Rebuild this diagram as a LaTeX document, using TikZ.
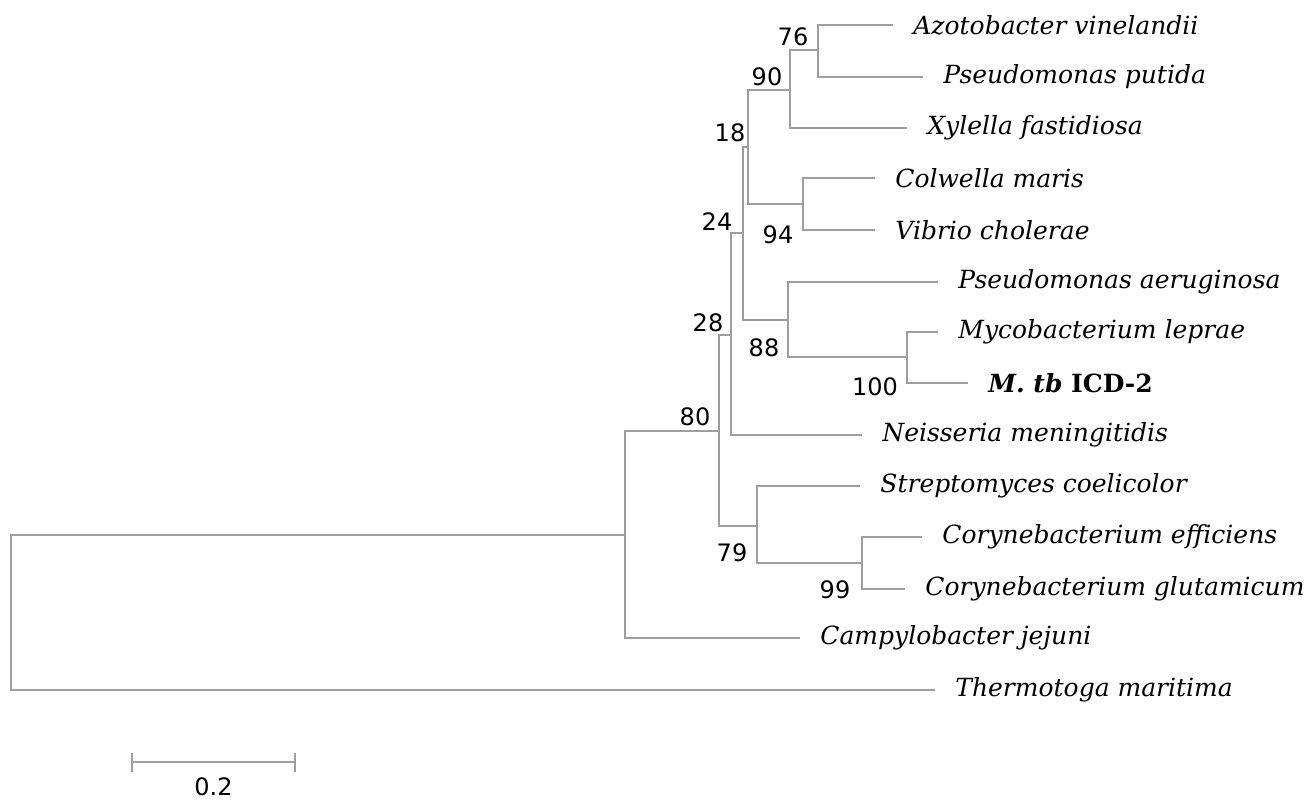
\documentclass[tikz,border=0pt]{standalone}
\usepackage{fontspec}
\setmainfont{DejaVu Serif}
\setsansfont{DejaVu Sans}
\usetikzlibrary{calc}
\newcommand*{\taxsize }{\fontsize{12.5}{15}\selectfont}
\newcommand*{\bootsize}{\fontsize{12}{14}\selectfont}
\newcommand*{\tipgap  }{10pt}
\colorlet{branchgray}{black!38}

\begin{document}
\begin{tikzpicture}[x=0.5pt, y=-0.5pt,
        taxon/.style={anchor=west, inner xsep=\tipgap, inner ysep=0pt, font=\taxsize\itshape},
        boot/.style={inner sep=0pt, font=\bootsize\sffamily},
        branch/.style={draw=branchgray, line width=0.9pt}]
    \useasboundingbox (0,0) rectangle (1304,801);
        % tips
        \node [taxon] (azo) at (893, 25) {Azotobacter vinelandii};
        \node [taxon] (put) at (923, 77) {Pseudomonas putida};
        \node [taxon] (xyl) at (907,128) {Xylella fastidiosa};
        \node [taxon] (col) at (875,178) {Colwella maris};
        \node [taxon] (vib) at (875,230) {Vibrio cholerae};
        \node [taxon] (aer) at (938,282) {Pseudomonas aeruginosa};
        \node [taxon] (lep) at (938,332) {Mycobacterium leprae};
        \node [taxon] (mtb) at (968,383) {\bfseries M. tb \upshape ICD-2};
        \node [taxon] (nei) at (862,435) {Neisseria meningitidis};
        \node [taxon] (str) at (860,486) {Streptomyces coelicolor};
        \node [taxon] (eff) at (922,537) {Corynebacterium efficiens};
        \node [taxon] (glu) at (905,589) {Corynebacterium glutamicum};
        \node [taxon] (cam) at (800,638) {Campylobacter jejuni};
        \node [taxon] (the) at (935,690) {Thermotoga maritima};
        % inner nodes
        \coordinate (n76)  at (818, 50);
        \coordinate (n90)  at (790, 90);
        \coordinate (n94)  at (803,204);
        \coordinate (n18)  at (748,147);
        \coordinate (n100) at (907,357);
        \coordinate (n88)  at (788,320);
        \coordinate (n24)  at (743,233);
        \coordinate (n28)  at (731,335);
        \coordinate (n99)  at (862,563);
        \coordinate (n79)  at (757,526);
        \coordinate (n80)  at (719,431);
        \coordinate (nc)   at (625,535);
        \coordinate (root) at ( 11,612);
        % branches
        \draw [branch] (n76)  |- (azo.west);
        \draw [branch] (n76)  |- (put.west);
        \draw [branch] (n90)  |- (n76);
        \draw [branch] (n90)  |- (xyl.west);
        \draw [branch] (n94)  |- (col.west);
        \draw [branch] (n94)  |- (vib.west);
        \draw [branch] (n18)  |- (n90);
        \draw [branch] (n18)  |- (n94);
        \draw [branch] (n100) |- (lep.west);
        \draw [branch] (n100) |- (mtb.west);
        \draw [branch] (n88)  |- (aer.west);
        \draw [branch] (n88)  |- (n100);
        \draw [branch] (n24)  |- (n18);
        \draw [branch] (n24)  |- (n88);
        \draw [branch] (n28)  |- (n24);
        \draw [branch] (n28)  |- (nei.west);
        \draw [branch] (n99)  |- (eff.west);
        \draw [branch] (n99)  |- (glu.west);
        \draw [branch] (n79)  |- (str.west);
        \draw [branch] (n79)  |- (n99);
        \draw [branch] (n80)  |- (n28);
        \draw [branch] (n80)  |- (n79);
        \draw [branch] (nc)   |- (n80);
        \draw [branch] (nc)   |- (cam.west);
        \draw [branch] (nc) -| (root) |- (the.west);
        % bootstrap values
        \node [boot] (b76)  at (793, 37) {76};
        \node [boot] (b90)  at (767, 77) {90};
        \node [boot] (b18)  at (730,133) {18};
        \node [boot] (b24)  at (717,222) {24};
        \node [boot] (b94)  at (778,235) {94};
        \node [boot] (b28)  at (708,323) {28};
        \node [boot] (b88)  at (764,348) {88};
        \node [boot] (b100) at (875,387) {100};
        \node [boot] (b80)  at (695,417) {80};
        \node [boot] (b79)  at (732,553) {79};
        \node [boot] (b99)  at (835,590) {99};
        % scale bar
        \coordinate (sbl) at (132,762);
        \coordinate (sbr) at (295,762);
        \draw [branch] (sbl) -- (sbr);
        \draw [branch] ($(sbl)+(0,-9)$) -- ($(sbl)+(0,10)$);
        \draw [branch] ($(sbr)+(0,-9)$) -- ($(sbr)+(0,10)$);
        \node [boot] (sbt) at ($(sbl)!0.5!(sbr)+(0,25)$) {0.2};
    \end{tikzpicture}
\end{document}
